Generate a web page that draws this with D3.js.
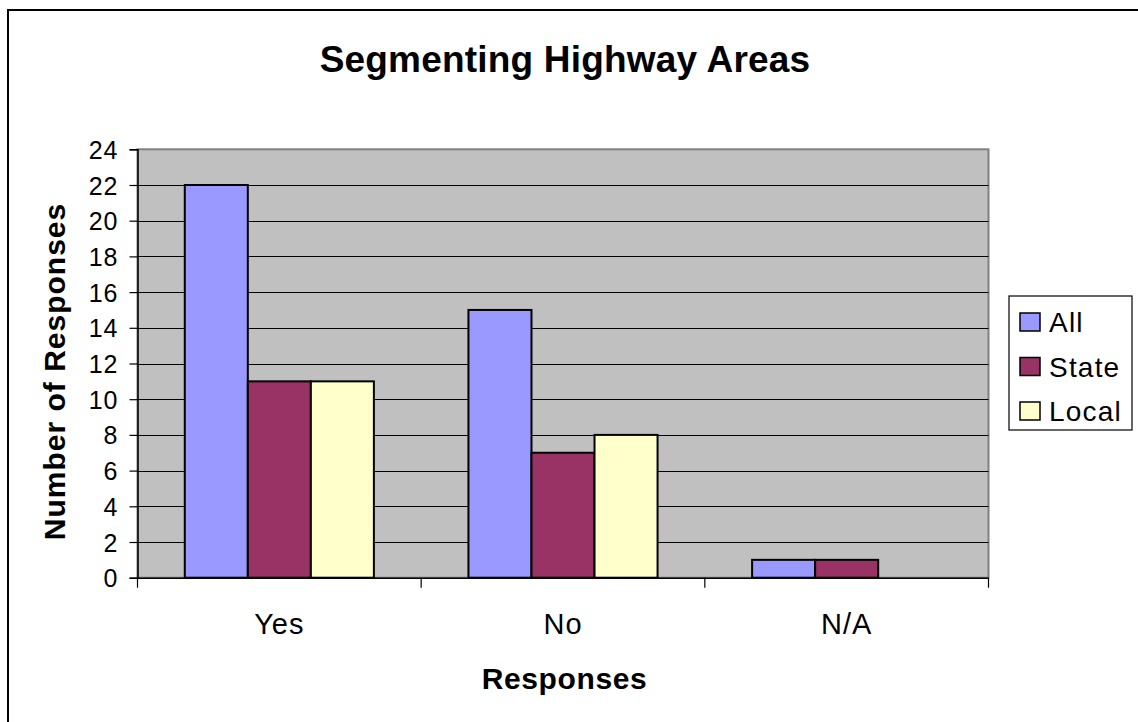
<!DOCTYPE html>
<html><head><meta charset="utf-8">
<script src="https://cdn.jsdelivr.net/npm/d3@7"></script>
<style>
html,body{margin:0;padding:0;background:#fff;}
svg{display:block;font-family:Arial,"Liberation Sans",sans-serif;}
</style></head>
<body>
<svg id="chart" width="1138" height="722"></svg>
<script>
const categories = ["Yes", "No", "N/A"];
const seriesNames = ["All", "State", "Local"];
const allValues = [22, 15, 1];
const stateValues = [11, 7, 1];
const localValues = [11, 8, 0];
const yTicks = [0, 2, 4, 6, 8, 10, 12, 14, 16, 18, 20, 22, 24];
const colors = ["#9999FF", "#993366", "#FFFFCC"];

const seriesValues = [allValues, stateValues, localValues];
const data = categories.map((c, i) => ({cat: c, vals: seriesNames.map((s, j) => ({s, v: seriesValues[j][i]}))}));

const FONT = "Arial, 'Liberation Sans', sans-serif";
const svg = d3.select("#chart");
const L = 137.5, R = 988.5, T = 149.3, B = 577.7;

// outer border
svg.append("rect").attr("x", 8).attr("y", 10).attr("width", 1140).attr("height", 720)
  .attr("fill", "#fff").attr("stroke", "#000").attr("stroke-width", 2);

const y = d3.scaleLinear().domain([0, 24]).range([B, T]);
const x0 = d3.scaleBand().domain(categories).range([L, R]).paddingInner(0).paddingOuter(0);
const x1 = d3.scaleBand().domain(seriesNames).range([0, x0.bandwidth()]).paddingInner(0).paddingOuter(0.75);

// plot area
svg.append("rect").attr("x", L).attr("y", T).attr("width", R - L).attr("height", B - T)
  .attr("fill", "#C0C0C0").attr("stroke", "#808080").attr("stroke-width", 2);

// gridlines
svg.append("g").selectAll("line").data(yTicks.filter(d => d > 0 && d < 24)).join("line")
  .attr("x1", L).attr("x2", R).attr("y1", d => Math.round(y(d)) + 0.5).attr("y2", d => Math.round(y(d)) + 0.5)
  .attr("stroke", "#000").attr("stroke-width", 1.2);

// bars
const g = svg.append("g").selectAll("g").data(data).join("g")
  .attr("transform", d => `translate(${x0(d.cat)},0)`);
g.selectAll("rect").data(d => d.vals.filter(v => v.v > 0)).join("rect")
  .attr("x", d => x1(d.s)).attr("width", x1.bandwidth())
  .attr("y", d => y(d.v)).attr("height", d => B - y(d.v))
  .attr("fill", d => colors[seriesNames.indexOf(d.s)])
  .attr("stroke", "#000").attr("stroke-width", 2);

// y axis
const yAxis = d3.axisLeft(y).tickValues(yTicks).tickSize(8).tickPadding(11);
const ya = svg.append("g").attr("transform", `translate(${L},0)`).call(yAxis);
ya.select(".domain").attr("stroke", "#000").attr("stroke-width", 1.5);
ya.selectAll(".tick line").attr("stroke", "#000").attr("stroke-width", 1.2);
ya.selectAll("text").attr("font-size", 25).attr("letter-spacing", 1).attr("fill", "#000")
  .attr("font-family", FONT).attr("dy", "0.36em");

// x axis
const xa = svg.append("g").attr("transform", `translate(0,${B})`).call(d3.axisBottom(x0).tickSize(0).tickPadding(0));
xa.select(".domain").attr("stroke", "#000").attr("stroke-width", 1.5);
xa.selectAll(".tick text").attr("font-size", 29).attr("letter-spacing", 1).attr("fill", "#000").attr("y", 0).attr("dy", 0)
  .attr("transform", "translate(0,56)").attr("font-family", FONT);
// boundary ticks
const bounds = categories.map(c => x0(c)).concat([R]);
svg.append("g").selectAll("line").data(bounds).join("line")
  .attr("x1", d => d).attr("x2", d => d).attr("y1", B).attr("y2", B + 10)
  .attr("stroke", "#000").attr("stroke-width", 1.2);

// title
svg.append("text").attr("x", 565).attr("y", 72).attr("text-anchor", "middle")
  .attr("font-size", 37).attr("letter-spacing", 0.2).attr("font-weight", "bold").text("Segmenting Highway Areas");
// axis titles
svg.append("text").attr("x", 564.5).attr("y", 689).attr("text-anchor", "middle")
  .attr("font-size", 30).attr("letter-spacing", 0.6).attr("font-weight", "bold").text("Responses");
svg.append("text").attr("transform", "translate(65,371.5) rotate(-90)").attr("text-anchor", "middle")
  .attr("font-size", 30).attr("letter-spacing", 1).attr("font-weight", "bold").text("Number of Responses");

// legend
const lg = svg.append("g");
lg.append("rect").attr("x", 1009).attr("y", 296).attr("width", 123).attr("height", 134)
  .attr("fill", "#fff").attr("stroke", "#000").attr("stroke-width", 1.2);
const items = lg.selectAll("g").data(seriesNames).join("g")
  .attr("transform", (d, i) => `translate(1020,${313 + i * 44.5})`);
items.append("rect").attr("width", 20).attr("height", 18).attr("fill", (d, i) => colors[i])
  .attr("stroke", "#000").attr("stroke-width", 1.5);
items.append("text").attr("x", 29).attr("y", 19).attr("font-size", 28).attr("letter-spacing", 1.2).text(d => d);
</script>
</body></html>
